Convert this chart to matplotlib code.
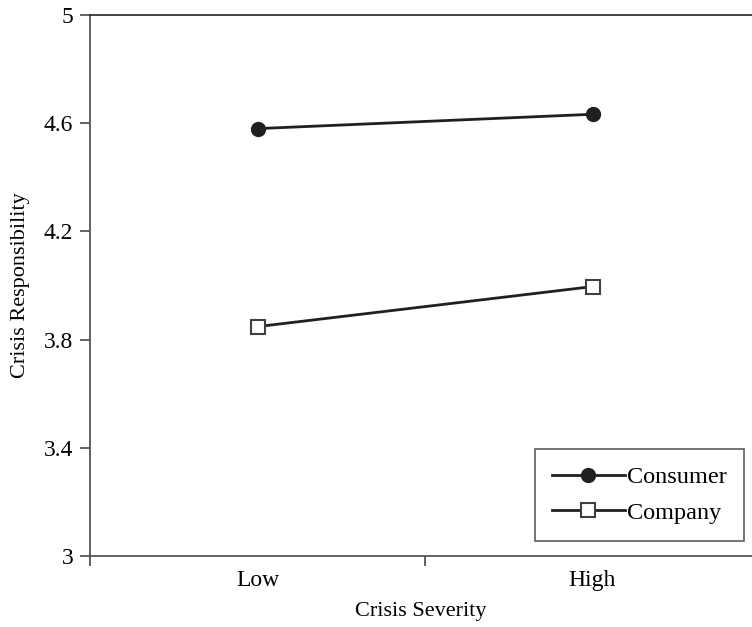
import matplotlib
matplotlib.use('Agg')
import matplotlib.pyplot as plt

severity = ["Low", "High"]
consumer = [4.58, 4.633]
company = [3.848, 3.996]
y_ticks = [3, 3.4, 3.8, 4.2, 4.6, 5]
y_tick_labels = ["3", "3.4", "3.8", "4.2", "4.6", "5"]

plt.rcParams['font.family'] = ['Liberation Serif', 'DejaVu Serif']
W, H = 752, 627
fig = plt.figure(figsize=(W / 100, H / 100), dpi=100)
ax = fig.add_axes([90 / W, (H - 556) / H, (W - 90) / W, (556 - 15) / H])

xs = [0.5, 1.5]
ax.plot(xs, consumer, color='#231f20', lw=2, marker='o', ms=10,
        mfc='#231f20', mec='#231f20', label="Consumer")
ax.plot(xs, company, color='#231f20', lw=2, marker='s', ms=10,
        mfc='white', mec='#404040', mew=1.5, label="Company")

ax.set_xlim(0, 2 * (W - 90) / (760 - 90))
ax.set_ylim(3, 5)
ax.set_yticks(y_ticks)
ax.set_yticklabels(y_tick_labels)
ax.set_xticks([0, 1])
ax.set_xticklabels([])
ax.set_xticks(xs, minor=True)
ax.set_xticklabels(severity, minor=True)
ax.tick_params(axis='both', which='major', direction='out', length=7,
               width=1.3, color='#555555', labelsize=17, pad=5)
ax.tick_params(axis='x', which='minor', length=0, pad=10, labelsize=17)
ax.spines['right'].set_visible(False)
for s in ['left', 'bottom', 'top']:
    ax.spines[s].set_color('#555555')
    ax.spines[s].set_linewidth(1.3)
ax.spines['top'].set_color('#333333')

ax.set_xlabel("Crisis Severity", fontsize=16, labelpad=8)
ax.set_ylabel("Crisis Responsibility", fontsize=16, labelpad=10)

leg = ax.legend(loc='lower right', bbox_to_anchor=(0.988, 0.028), fontsize=17.5,
                frameon=True, fancybox=False, handlelength=3.0,
                handletextpad=0.1, borderpad=0.7, labelspacing=0.55,
                borderaxespad=0, edgecolor='#444444')
leg.get_frame().set_linewidth(1.3)

plt.savefig("out.png", dpi=100)
plt.close()
